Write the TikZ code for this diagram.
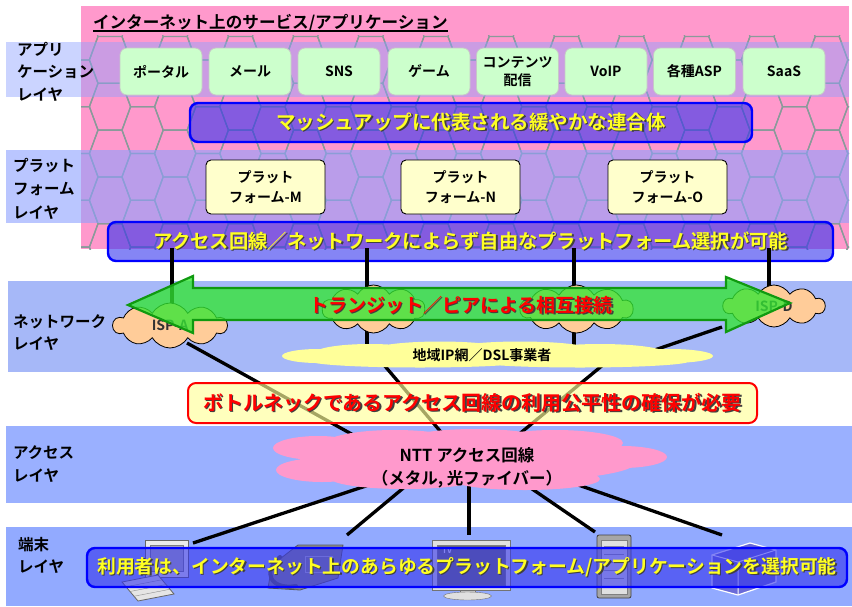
\documentclass[tikz,border=0pt]{standalone}
\usepackage{fontspec}
\newfontfamily\jpb{Noto Sans CJK JP Bold}
\usetikzlibrary{shapes.symbols,calc}

\definecolor{bgpink}{HTML}{FF99CC}
\definecolor{hexgray}{HTML}{8A9A9A}
\definecolor{bandblue}{HTML}{8CA0FF}
\definecolor{netblue}{HTML}{A6B8F8}
\definecolor{accblue}{HTML}{9AB0FF}
\definecolor{termblue}{HTML}{92AAFF}
\definecolor{appgreen}{HTML}{CCFFCC}
\definecolor{platcream}{HTML}{FFFFCC}
\definecolor{boxblue}{HTML}{3333EE}
\definecolor{pureblue}{HTML}{0000FF}
\definecolor{capyellow}{HTML}{FFFF22}
\definecolor{ispbeige}{HTML}{FFCC99}
\definecolor{lightyellow}{HTML}{FFFF99}
\definecolor{arrowgreen}{HTML}{33E633}
\definecolor{arrowedge}{HTML}{109A10}
\definecolor{boxviolet}{HTML}{6A6AD8}

% text with a dark drop shadow
\newcommand\shadowtxt[2]{\rlap{\hspace{1.3pt}\raisebox{-1.3pt}{\textcolor{#2}{#1}}}#1}
\newcommand\fs[1]{\fontsize{#1}{#1}\selectfont}

\begin{document}
\begin{tikzpicture}[x=1pt,y=-1pt,
  every node/.style={inner sep=0pt, outer sep=0pt},
  hexline/.style={draw=hexgray, line width=1.3pt},
  layertxt/.style={anchor=west, align=left, font=\jpb\fontsize{15.5}{22.5}\selectfont},
  appbox/.style={draw=black!22, line width=0.8pt, fill=appgreen, rounded corners=7pt,
    minimum width=82pt, minimum height=47pt, align=center, font=\jpb\fontsize{14}{17.5}\selectfont},
  platbox/.style={draw=black, line width=0.9pt, fill=platcream, rounded corners=5pt,
    minimum width=119pt, minimum height=54pt, align=center, font=\jpb\fontsize{14}{20.5}\selectfont},
  bluebox/.style={draw=pureblue, line width=2.4pt, fill=boxblue, fill opacity=0.6, text opacity=1,
    rounded corners=8pt, text=capyellow},
  warnbox/.style={draw=red, line width=2pt, fill=lightyellow, fill opacity=0.65, text opacity=1,
    rounded corners=8pt, text=red},
  isp/.style={cloud, cloud puffs=10, cloud puff arc=120, cloud ignores aspect, draw=black,
    line width=0.8pt, fill=ispbeige, text=black!80, font=\jpb\fs{14}},
  link/.style={draw=black, line width=3.3pt},
]
\useasboundingbox (0,0) rectangle (852,606);

% ---------- upper (service) area with honeycomb ----------
\fill[bgpink] (81,6) rectangle (849,249);
\begin{scope}
  \clip (81,35) rectangle (849,249);
  \foreach \i in {0,...,25} {
    \pgfmathsetmacro\cx{77.4+32.6*\i}
    \pgfmathsetmacro\oy{130.1+23.4*mod(\i,2)}
    \foreach \j in {-2,...,3} {
      \pgfmathsetmacro\cy{\oy+46.8*\j}
      \draw[hexline] (\cx-20.6,\cy) -- (\cx-12,\cy-23.4) -- (\cx+12,\cy-23.4)
        -- (\cx+20.6,\cy) -- (\cx+12,\cy+23.4) -- (\cx-12,\cy+23.4) -- cycle;
    }
  }
\end{scope}

% ---------- layer bands ----------
\fill[bandblue, opacity=0.45] (6,42) rectangle (849,97);
\fill[bandblue, opacity=0.6] (6,150) rectangle (849,223);
\fill[netblue] (8,281) rectangle (852,372);
\fill[accblue] (6,426) rectangle (852,503);
\fill[termblue] (6,527) rectangle (852,606);

\node[layertxt] (lapp) at (17,71.5) {アプリ\\ケーション\\レイヤ};
\node[layertxt, font=\jpb\fontsize{15.5}{23.5}\selectfont] (lplat) at (13,188.5) {プラット\\フォーム\\レイヤ};
\node[layertxt] (lnet) at (13,332.5) {ネットワーク\\レイヤ};
\node[layertxt] (lacc) at (13,464) {アクセス\\レイヤ};
\node[layertxt] (lterm) at (18,555.5) {端末\\レイヤ};

% ---------- title ----------
\node[anchor=west, font=\jpb\fs{16.6}] (title) at (93,23) {インターネット上のサービス/アプリケーション};
\draw[line width=1.3pt] ([yshift=-2.5pt]title.base west) -- ([yshift=-2.5pt]title.base east);

% ---------- applications ----------
\node[appbox] (portal) at (161,71.5) {ポータル};
\node[appbox] (mail) at (250,71.5) {メール};
\node[appbox] (sns) at (339,71.5) {SNS};
\node[appbox] (game) at (429,71.5) {ゲーム};
\node[appbox] (contents) at (517.5,71.5) {コンテンツ\\配信};
\node[appbox] (voip) at (606,71.5) {VoIP};
\node[appbox] (asp) at (694.5,71.5) {各種ASP};
\node[appbox] (saas) at (784,71.5) {SaaS};

\node[bluebox, minimum width=562pt, minimum height=39pt, font=\jpb\fs{19.5}] (mashup) at (471,122.5)
  {\shadowtxt{マッシュアップに代表される緩やかな連合体}{black!75}};

% ---------- platforms ----------
\node[platbox] (platM) at (265.5,187) {プラット\\フォーム-M};
\node[platbox] (platN) at (460.5,187) {プラット\\フォーム-N};
\node[platbox] (platO) at (667.5,187) {プラット\\フォーム-O};

\node[bluebox, minimum width=725pt, minimum height=39pt, font=\jpb\fs{19.3}] (platsel) at (470.5,241.5)
  {\shadowtxt{アクセス回線／ネットワークによらず自由なプラットフォーム選択が可能}{black!75}};

% ---------- connection points ----------
\coordinate (v1a) at (172,248);  \coordinate (v1b) at (172,315);
\coordinate (v2a) at (367,248);  \coordinate (v2b) at (367,350);
\coordinate (v3a) at (574,248);  \coordinate (v3b) at (574,350);
\coordinate (v4a) at (769,248);  \coordinate (v4b) at (769,300);
\coordinate (d1a) at (187,343);  \coordinate (d1b) at (366,442);
\coordinate (d2a) at (367,345);  \coordinate (d2b) at (452,445);
\coordinate (d3a) at (615,355);  \coordinate (d3b) at (512,440);
\coordinate (d4a) at (722,327);  \coordinate (d4b) at (640,355);
\coordinate (n1) at (384,480);   \coordinate (pc) at (193,543);
\coordinate (n2) at (413,480);   \coordinate (phone) at (347,535);
\coordinate (n3) at (469,480);   \coordinate (tv) at (469,535);
\coordinate (n4) at (519,480);   \coordinate (server) at (595,532);
\coordinate (n5) at (564,480);   \coordinate (device) at (722,535);

\draw[link] (v1a) -- (v1b);
\draw[link] (v2a) -- (v2b);
\draw[link] (v3a) -- (v3b);
\draw[link] (v4a) -- (v4b);
\draw[link] (d1a) -- (d1b);
\draw[link] (d2a) -- (d2b);
\draw[link] (d3a) -- (d3b);
\draw[link] (d4a) -- (d4b);
\draw[link] (n1) -- (pc);
\draw[link] (n2) -- (phone);
\draw[link] (n3) -- (tv);
\draw[link] (n4) -- (server);
\draw[link] (n5) -- (device);

% ---------- terminals ----------
% personal computer
\draw[fill=black!8, draw=black!60, line width=0.8pt] (145,540) rectangle (188,577);
\draw[fill=black!28, draw=black!50] (150,545) rectangle (183,571);
\draw[fill=black!10, draw=black!60, line width=0.8pt] (122,582) -- (158,575) -- (174,594) -- (138,601) -- cycle;
\foreach \k in {0.25,0.5,0.75}
  \draw[black!45] ($(122,582)!\k!(138,601)$) -- ($(158,575)!\k!(174,594)$);
% telephone
\draw[fill=black!45, draw=black!65, line width=0.8pt] (272,565) -- (298,545) -- (343,545) -- (338,578) -- (300,590) -- (268,588) -- cycle;
\draw[black!65, line width=4pt, line cap=round] (280,557) .. controls (262,572) and (270,590) .. (296,586);
\draw[black!25] (305,556) rectangle (332,572);
% television
\draw[fill=black!12, draw=black!55, line width=0.8pt] (432,540) rectangle (510,590);
\draw[fill=black!55, draw=black!50] (437,545) rectangle (505,585);
\node[font=\jpb\fs{8}, text=white] (tvmark) at (447,551) {TV};
\draw[fill=black!20, draw=black!55] (460,590) rectangle (475,594);
\draw[fill=black!12, draw=black!55] (467.5,596) ellipse [x radius=24pt, y radius=4pt];
% server
\draw[fill=black!35, draw=black!75, line width=0.8pt, rounded corners=2pt] (597,535) rectangle (631,598);
\draw[fill=black!12, draw=black!50] (601,540) rectangle (627,594);
\foreach \r in {0,...,5}
  \draw[black!40] (604,{546+8*\r}) -- (624,{546+8*\r});
% network appliance
\draw[fill=boxviolet, draw=white, line width=1.2pt] (712,555) -- (750,543) -- (776,550) -- (776,582) -- (738,595) -- (712,588) -- cycle;
\draw[white, line width=1pt] (712,555) -- (738,562) -- (776,550) (738,562) -- (738,595);

% ---------- clouds ----------
\node[isp, minimum width=114pt, minimum height=45pt] (ispA) at (170,325.5) {ISP-A};
\node[isp, minimum width=103pt, minimum height=48pt] (ispB) at (373.5,309) {};
\node[isp, minimum width=113pt, minimum height=48pt] (ispC) at (576.5,309) {};
\node[isp, minimum width=102pt, minimum height=42pt] (ispD) at (774,306) {ISP-D};

% regional carrier cloud: a flat blob of overlapping ellipses
\fill[lightyellow]
  (318,356) ellipse [x radius=36pt, y radius=7pt]
  (370,353) ellipse [x radius=55pt, y radius=9pt]
  (440,351) ellipse [x radius=70pt, y radius=9.5pt]
  (520,351) ellipse [x radius=75pt, y radius=9.5pt]
  (600,353) ellipse [x radius=65pt, y radius=9pt]
  (670,356) ellipse [x radius=43pt, y radius=7pt]
  (420,361) ellipse [x radius=110pt, y radius=6.5pt]
  (580,361) ellipse [x radius=110pt, y radius=6.5pt];
\node[font=\jpb\fs{14}] (regional) at (482,355) {地域IP網／DSL事業者};

% access network cloud
\fill[bgpink]
  (318,448) ellipse [x radius=45pt, y radius=12pt]
  (322,470) ellipse [x radius=46pt, y radius=12pt]
  (395,444) ellipse [x radius=70pt, y radius=14pt]
  (475,442) ellipse [x radius=75pt, y radius=13pt]
  (555,443) ellipse [x radius=68pt, y radius=13pt]
  (622,457) ellipse [x radius=45pt, y radius=11pt]
  (470,463) ellipse [x radius=165pt, y radius=20pt]
  (405,478) ellipse [x radius=75pt, y radius=11pt]
  (525,479) ellipse [x radius=75pt, y radius=11pt];
\node[align=center, font=\jpb\fontsize{16.5}{23}\selectfont] (ntt) at (467,468)
  {NTT アクセス回線\\（メタル, 光ファイバー）};

% ---------- interconnection arrow ----------
\draw[fill=arrowgreen, fill opacity=0.78, draw=arrowedge, line width=2.2pt, line join=miter]
  (128,305) -- (193,276) -- (193,288) -- (726,288) -- (726,277) -- (790,303)
  -- (726,332) -- (726,320) -- (193,320) -- (193,333) -- cycle;
\node[text=red, font=\jpb\fs{19}] (transit) at (461,306) {\shadowtxt{トランジット／ピアによる相互接続}{black!75}};

% ---------- notes ----------
\node[warnbox, minimum width=569pt, minimum height=40pt, font=\jpb\fs{20}] (bottleneck) at (472.5,403)
  {\shadowtxt{ボトルネックであるアクセス回線の利用公平性の確保が必要}{black!75}};
\node[bluebox, minimum width=760pt, minimum height=39pt, font=\jpb\fs{18.8}] (users) at (467,567.5)
  {\shadowtxt{利用者は、インターネット上のあらゆるプラットフォーム/アプリケーションを選択可能}{black!75}};
\end{tikzpicture}
\end{document}
